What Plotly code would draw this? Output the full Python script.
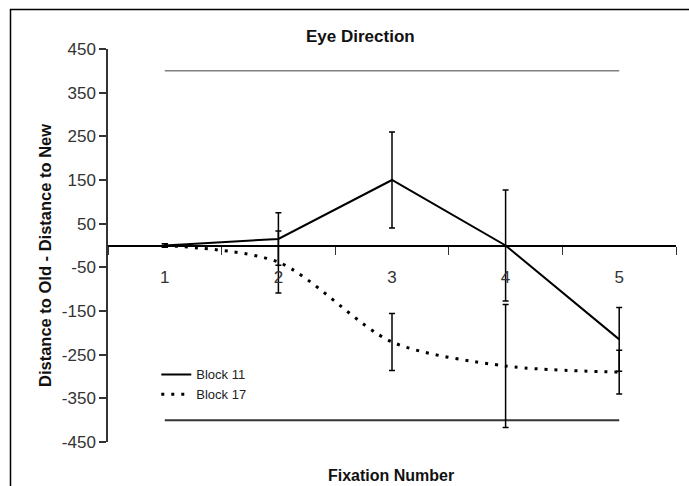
import plotly.graph_objects as go

fixations = ["1", "2", "3", "4", "5"]
block11 = [0, 15, 150, 0, -215]
block11_err = [4, 60, 110, 127, 73]
block17 = [0, -38, -221, -276, -290]
block17_err = [4, 71, 65, 141, 50]
upper_ref = [400, 400, 400, 400, 400]
lower_ref = [-400, -400, -400, -400, -400]
y_ticks = [450, 350, 250, 150, 50, -50, -150, -250, -350, -450]

FONT = "Liberation Sans, Arial, sans-serif"

fig = go.Figure()
fig.add_trace(go.Scatter(x=fixations, y=upper_ref, mode="lines",
                         line=dict(color="#808080", width=1.5), showlegend=False, hoverinfo="skip"))
fig.add_trace(go.Scatter(x=fixations, y=lower_ref, mode="lines",
                         line=dict(color="#333333", width=2), showlegend=False, hoverinfo="skip"))
fig.add_trace(go.Scatter(x=fixations, y=block11, mode="lines", name="Block 11",
                         line=dict(color="black", width=2),
                         error_y=dict(type="data", array=block11_err, visible=True,
                                      color="black", thickness=1.5, width=3)))
fig.add_trace(go.Scatter(x=fixations, y=block17, mode="lines", name="Block 17",
                         line=dict(color="black", width=3, dash="3px,7px", shape="spline", smoothing=0.8),
                         error_y=dict(type="data", array=block17_err, visible=True,
                                      color="black", thickness=1.5, width=3)))

fig.update_layout(
    width=689, height=486,
    margin=dict(l=108, r=13, t=49, b=44),
    paper_bgcolor="white", plot_bgcolor="white",
    font=dict(family=FONT, color="#222222"),
    showlegend=True,
    legend=dict(x=0.085, y=0.21, xanchor="left", yanchor="top",
                bgcolor="rgba(0,0,0,0)", font=dict(size=13, color="#222222"),
                tracegroupgap=0, itemwidth=30),
    xaxis=dict(type="category", range=[-0.5, 4.5], anchor="free", position=0.5,
               showline=True, linecolor="black", linewidth=2,
               ticks="outside", tickson="boundaries", ticklen=8, tickcolor="#333333",
               tickwidth=1, ticklabelstandoff=16,
               tickfont=dict(size=17, color="#333333"),
               showgrid=False, zeroline=False),
    yaxis=dict(range=[-450, 450], tickvals=y_ticks, ticktext=[str(v) for v in y_ticks],
               showline=True, linecolor="#333333", linewidth=1.5,
               ticks="outside", ticklen=7, tickcolor="#333333", tickwidth=1.5,
               tickfont=dict(size=17, color="#333333"),
               showgrid=False, zeroline=False),
    annotations=[
        dict(text="<b>Eye Direction</b>", xref="paper", yref="paper",
             x=(360 - 108) / 568, y=(442 - 37) / 393, showarrow=False,
             xanchor="center", yanchor="middle", font=dict(size=17, color="#111111")),
        dict(text="<b>Fixation Number</b>", xref="paper", yref="paper",
             x=(391 - 108) / 568, y=(442 - 475) / 393, showarrow=False,
             xanchor="center", yanchor="middle", font=dict(size=16, color="#111111")),
        dict(text="<b>Distance to Old - Distance to New</b>", xref="paper", yref="paper",
             x=(45 - 108) / 568, y=(442 - 256) / 393, showarrow=False, textangle=-90,
             xanchor="center", yanchor="middle", font=dict(size=16.5, color="#111111")),
    ],
    shapes=[
        dict(type="line", xref="paper", yref="paper", x0=(10 - 108) / 568, x1=(689 - 108) / 568 + 0.01,
             y0=(442 - 9.5) / 393, y1=(442 - 9.5) / 393, line=dict(color="black", width=1.5)),
        dict(type="line", xref="paper", yref="paper", x0=(10.5 - 108) / 568, x1=(10.5 - 108) / 568,
             y0=(442 - 9) / 393, y1=(442 - 490) / 393, line=dict(color="black", width=1.5)),
    ],
)

fig.write_html("out.html")
